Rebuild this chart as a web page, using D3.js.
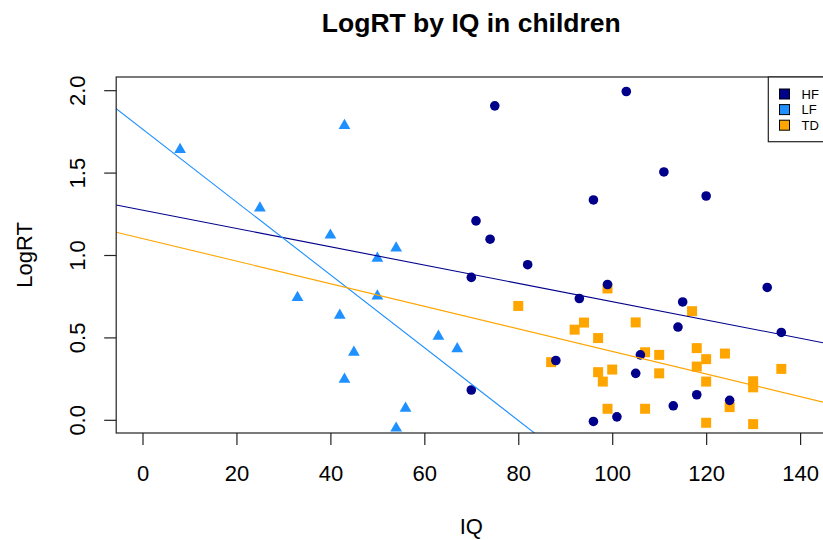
<!DOCTYPE html>
<html>
<head>
<meta charset="utf-8">
<script src="https://cdn.jsdelivr.net/npm/d3@7"></script>
<style>
  html, body { margin: 0; padding: 0; background: #fff; }
  svg { display: block; font-family: "Liberation Sans", Arial, Helvetica, sans-serif; }
</style>
</head>
<body>
<svg id="chart" width="823" height="540"></svg>
<script>
// Groups and their colours
const groups = ["HF", "LF", "TD"];
const groupColors = ["#00008B", "#1E90FF", "#FFA500"];

// HF children: IQ and LogRT
const hfIQ    = [75, 71, 74, 82, 70, 93, 88, 70, 103, 111, 96, 120, 99, 133, 115, 114, 136, 106, 105, 118, 125, 113, 101, 96];
const hfLogRT = [1.905, 1.207, 1.096, 0.941, 0.864, 0.736, 0.36, 0.181, 1.992, 1.504, 1.334, 1.358, 0.821, 0.803, 0.715, 0.563, 0.53, 0.394, 0.282, 0.152, 0.118, 0.085, 0.018, -0.01];

// LF children
const lfIQ    = [8, 43, 25, 40, 33, 42, 45, 43, 50, 50, 63, 67, 56, 54, 54];
const lfLogRT = [1.64, 1.785, 1.285, 1.12, 0.742, 0.634, 0.41, 0.246, 0.98, 0.751, 0.506, 0.431, 0.07, -0.051, 1.042];

// TD children
const tdIQ    = [80, 94, 92, 87, 99, 117, 105, 97, 107, 110, 118, 120, 124, 118, 97, 100, 110, 98, 120, 130, 130, 136, 125, 99, 107, 120, 130];
const tdLogRT = [0.691, 0.59, 0.547, 0.35, 0.797, 0.659, 0.591, 0.496, 0.41, 0.394, 0.435, 0.368, 0.402, 0.323, 0.289, 0.305, 0.282, 0.232, 0.232, 0.234, 0.197, 0.309, 0.077, 0.067, 0.067, -0.018, -0.026];

// Fitted lines per group: intercept and slope (HF, LF, TD)
const fitIntercepts = [1.272, 1.764, 1.100];
const fitSlopes     = [-0.00555, -0.0221, -0.00685];

// Axis ticks
const xTicks = [0, 20, 40, 60, 80, 100, 120, 140];
const yTicks = [0, 0.5, 1.0, 1.5, 2.0];

const svg = d3.select("#chart");
const W = 823, H = 540;
const box = { left: 116.2, right: 826.4, top: 77, bottom: 433 };

const x = d3.scaleLinear().domain([-5.6, 145.6]).range([box.left, box.right]);
const y = d3.scaleLinear().domain([-0.08, 2.08]).range([box.bottom, box.top]);

svg.append("rect").attr("width", W).attr("height", H).attr("fill", "#fff");

// Clip region for the plotting area
svg.append("clipPath").attr("id", "plotClip")
  .append("rect")
  .attr("x", box.left).attr("y", box.top)
  .attr("width", box.right - box.left).attr("height", box.bottom - box.top);

const plot = svg.append("g").attr("clip-path", "url(#plotClip)");

// Points: TD squares, LF triangles, HF circles
const tdData = tdIQ.map((v, i) => ({ iq: v, rt: tdLogRT[i] }));
const lfData = lfIQ.map((v, i) => ({ iq: v, rt: lfLogRT[i] }));
const hfData = hfIQ.map((v, i) => ({ iq: v, rt: hfLogRT[i] }));

plot.append("g").selectAll("path").data(tdData).join("path")
  .attr("d", d3.symbol(d3.symbolSquare, 100))
  .attr("transform", d => `translate(${x(d.iq)},${y(d.rt)})`)
  .attr("fill", groupColors[2]);

plot.append("g").selectAll("path").data(lfData).join("path")
  .attr("d", d3.symbol(d3.symbolTriangle, 60))
  .attr("transform", d => `translate(${x(d.iq)},${y(d.rt)})`)
  .attr("fill", groupColors[1]);

plot.append("g").selectAll("circle").data(hfData).join("circle")
  .attr("cx", d => x(d.iq)).attr("cy", d => y(d.rt))
  .attr("r", 4.8)
  .attr("fill", groupColors[0]);

// Regression lines across the full x domain
const [x0, x1] = x.domain();
groups.forEach((g, i) => {
  plot.append("line")
    .attr("x1", x(x0)).attr("y1", y(fitIntercepts[i] + fitSlopes[i] * x0))
    .attr("x2", x(x1)).attr("y2", y(fitIntercepts[i] + fitSlopes[i] * x1))
    .attr("stroke", groupColors[i])
    .attr("stroke-width", 1.1);
});

// Plot frame
svg.append("rect")
  .attr("x", box.left).attr("y", box.top)
  .attr("width", box.right - box.left).attr("height", box.bottom - box.top)
  .attr("fill", "none").attr("stroke", "#222").attr("stroke-width", 1.2);

// X axis
const xAxis = svg.append("g")
  .attr("transform", `translate(0,${box.bottom})`)
  .call(d3.axisBottom(x).tickValues(xTicks).tickSize(12).tickPadding(20).tickFormat(d3.format("d")));
xAxis.select(".domain").remove();
xAxis.selectAll("line").attr("stroke", "#222").attr("stroke-width", 1.2);
xAxis.selectAll("text")
  .attr("fill", "#000").attr("font-size", 22)
  .attr("font-family", "Liberation Sans, Arial, sans-serif");

// Y axis with labels parallel to the axis
const yAxis = svg.append("g")
  .attr("transform", `translate(${box.left},0)`)
  .call(d3.axisLeft(y).tickValues(yTicks).tickSize(12).tickFormat(d3.format(".1f")));
yAxis.select(".domain").remove();
yAxis.selectAll("line").attr("stroke", "#222").attr("stroke-width", 1.2);
yAxis.selectAll("text")
  .attr("x", null).attr("dy", null)
  .attr("transform", "translate(-31,0) rotate(-90)")
  .attr("text-anchor", "middle")
  .attr("fill", "#000").attr("font-size", 22)
  .attr("font-family", "Liberation Sans, Arial, sans-serif");

// Title and axis titles
const midX = (box.left + box.right) / 2;
svg.append("text")
  .attr("x", midX).attr("y", 32)
  .attr("text-anchor", "middle")
  .attr("font-size", 26.5).attr("font-weight", "bold")
  .text("LogRT by IQ in children");

svg.append("text")
  .attr("x", midX).attr("y", 534)
  .attr("text-anchor", "middle")
  .attr("font-size", 22)
  .text("IQ");

svg.append("text")
  .attr("transform", `translate(32,${(box.top + box.bottom) / 2}) rotate(-90)`)
  .attr("text-anchor", "middle")
  .attr("font-size", 22)
  .text("LogRT");

// Legend
const legend = svg.append("g");
legend.append("rect")
  .attr("x", 768.3).attr("y", box.top)
  .attr("width", 70).attr("height", 64.7)
  .attr("fill", "#fff").attr("stroke", "#222").attr("stroke-width", 1.2);
const legendY = d3.scalePoint().domain(groups).range([94, 125.2]);
groups.forEach((g, i) => {
  legend.append("rect")
    .attr("x", 784.5 - 5).attr("y", legendY(g) - 5)
    .attr("width", 10).attr("height", 10)
    .attr("fill", groupColors[i]).attr("stroke", "#000").attr("stroke-width", 1);
  legend.append("text")
    .attr("x", 801.5).attr("y", legendY(g) + 4.6)
    .attr("font-size", 13)
    .text(g);
});
</script>
</body>
</html>
